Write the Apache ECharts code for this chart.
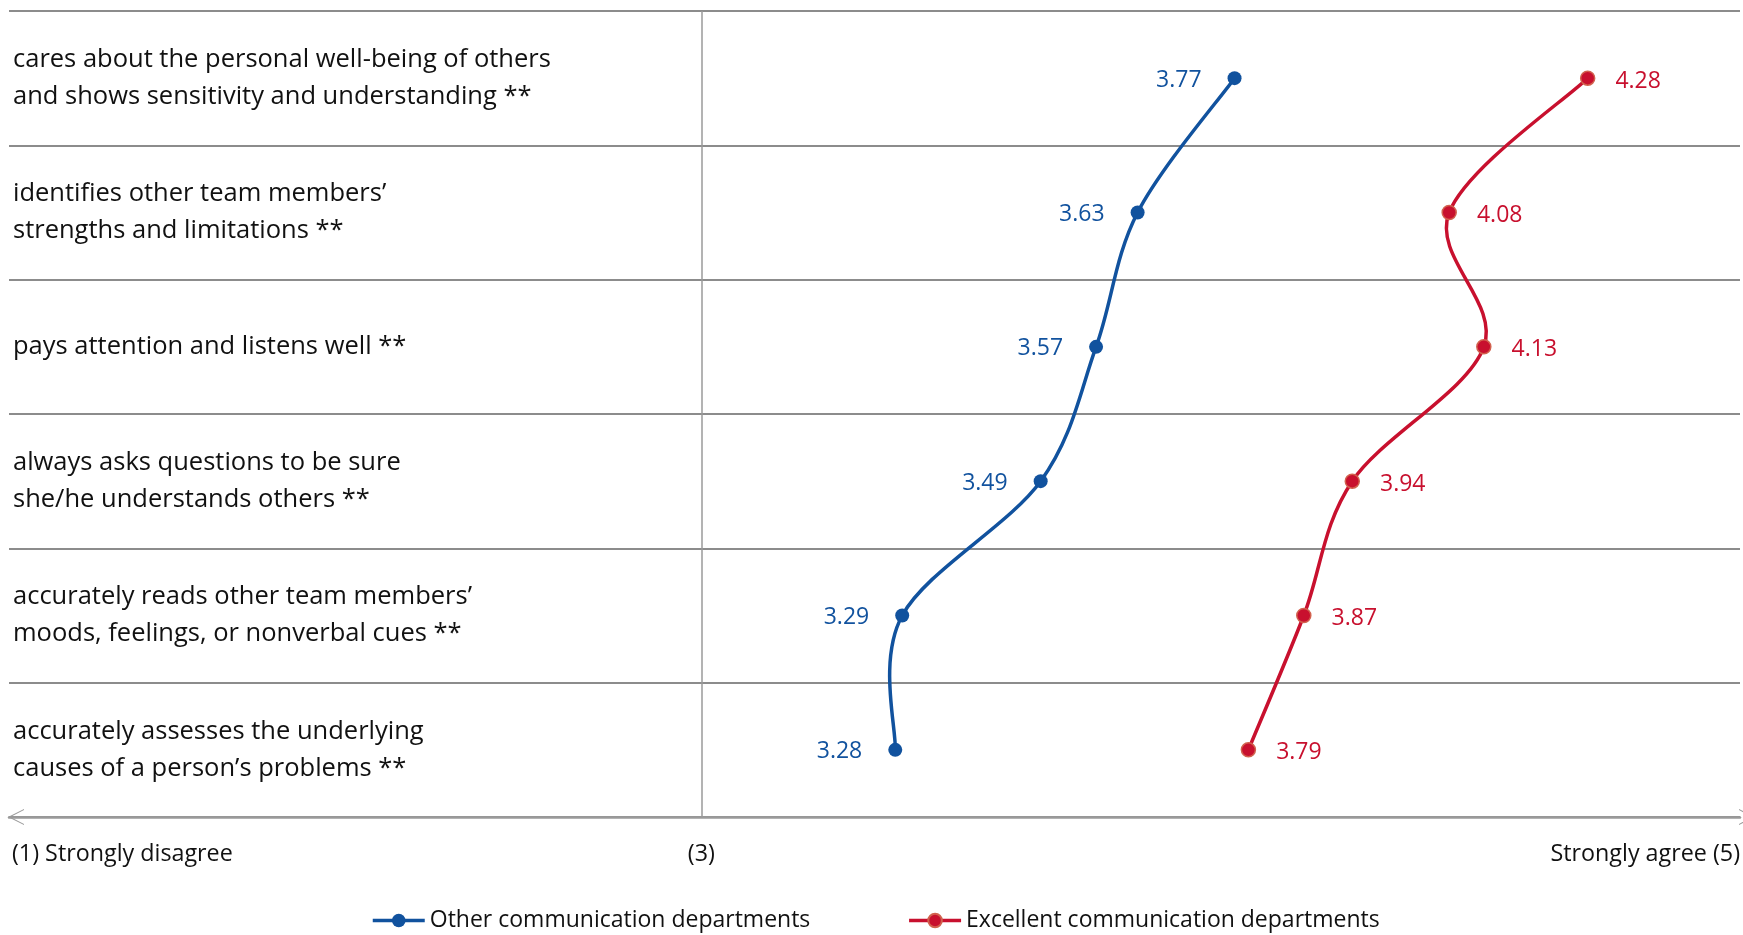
<!DOCTYPE html>
<html>
<head>
<meta charset="utf-8">
<script src="https://cdn.jsdelivr.net/npm/echarts@6/dist/echarts.min.js"></script>
<style>
html,body{margin:0;padding:0;background:#fff;}
#chart{width:1743px;height:935px;}
</style>
</head>
<body>
<div id="chart"></div>
<script>
const categories = [
  'cares about the personal well-being of others\nand shows sensitivity and understanding **',
  'identifies other team members\u2019\nstrengths and limitations **',
  'pays attention and listens well **',
  'always asks questions to be sure\nshe/he understands others **',
  'accurately reads other team members\u2019\nmoods, feelings, or nonverbal cues **',
  'accurately assesses the underlying\ncauses of a person\u2019s problems **'
];
const otherValues = [3.77, 3.63, 3.57, 3.49, 3.29, 3.28];
const excellentValues = [4.28, 4.08, 4.13, 3.94, 3.87, 3.79];
const seriesNames = ['Other communication departments', 'Excellent communication departments'];
const axisLabels = { 2: '(1) Strongly disagree', 3: '(3)', 4.5: 'Strongly agree (5)' };

const BLUE = '#11529e';
const RED = '#c8102e';
const FONT = 'Open Sans';
const LINE_W = 3.5;

// Excel-like smoothed curve (Catmull-Rom bezier) through the points, positioned by the axes
function curveRenderer(values, color) {
  return function (params, api) {
    if (params.dataIndex !== 0) return null;
    const pts = values.map(function (v, i) { return api.coord([v, i]); });
    const children = [];
    for (let i = 0; i < pts.length - 1; i++) {
      const p0 = pts[Math.max(i - 1, 0)], p1 = pts[i], p2 = pts[i + 1], p3 = pts[Math.min(i + 2, pts.length - 1)];
      children.push({
        type: 'bezierCurve',
        shape: {
          x1: p1[0], y1: p1[1], x2: p2[0], y2: p2[1],
          cpx1: p1[0] + (p2[0] - p0[0]) / 6, cpy1: p1[1] + (p2[1] - p0[1]) / 6,
          cpx2: p2[0] - (p3[0] - p1[0]) / 6, cpy2: p2[1] - (p3[1] - p1[1]) / 6
        },
        style: { fill: null, stroke: color, lineWidth: LINE_W, lineCap: 'round' }
      });
    }
    return { type: 'group', children: children };
  };
}

const chart = echarts.init(document.getElementById('chart'));
const chevron = 'path://M0,20 L10,0 L20,20 L18.6,20 L10,3 L1.4,20 Z';
chart.setOption({
  animation: false,
  textStyle: { fontFamily: FONT },
  grid: { left: 9, right: 0, top: 11, bottom: 118, containLabel: false },
  xAxis: {
    type: 'value', min: 2, max: 4.5, interval: 0.5,
    splitLine: { show: false },
    axisTick: { show: false },
    axisLine: {
      show: true,
      symbol: [chevron, chevron],
      symbolSize: [20, 16],
      symbolOffset: [7, 7],
      lineStyle: { color: '#9a9a9a', width: 2.5 }
    },
    axisLabel: {
      show: true, margin: 26, fontSize: 23.3, color: '#111', fontFamily: FONT,
      showMinLabel: true, showMaxLabel: true,
      alignMinLabel: 'left', alignMaxLabel: 'right',
      formatter: function (v) {
        if (axisLabels[v] === undefined) return '';
        return v === 2 ? '{pad|' + axisLabels[v] + '}' : axisLabels[v];
      },
      rich: { pad: { fontSize: 23.3, color: '#111', fontFamily: FONT, padding: [0, 0, 0, 3] } }
    }
  },
  yAxis: {
    type: 'category', inverse: true, data: categories,
    boundaryGap: true,
    axisLine: { show: false },
    axisTick: { show: false },
    splitLine: { show: true, lineStyle: { color: '#8c8c8c', width: 2 } },
    axisLabel: { inside: true, margin: 4, fontSize: 25.5, lineHeight: 37, color: '#111', fontFamily: FONT }
  },
  legend: {
    data: seriesNames,
    left: 366, top: 904,
    itemWidth: 52, itemHeight: 17, itemGap: 97,
    lineStyle: { width: LINE_W, opacity: 1 },
    textStyle: { fontSize: 23, color: '#111', fontFamily: FONT }
  },
  series: [
    {
      name: 'curve-other', type: 'custom', silent: true, z: 2,
      data: otherValues.map(function (v, i) { return [v, i]; }),
      encode: { x: 0, y: 1 },
      renderItem: curveRenderer(otherValues, BLUE)
    },
    {
      name: 'curve-excellent', type: 'custom', silent: true, z: 2,
      data: excellentValues.map(function (v, i) { return [v, i]; }),
      encode: { x: 0, y: 1 },
      renderItem: curveRenderer(excellentValues, RED)
    },
    {
      name: seriesNames[0], type: 'line', data: otherValues,
      symbol: 'circle', symbolSize: 14,
      lineStyle: { color: BLUE, width: LINE_W, opacity: 0 },
      itemStyle: { color: BLUE },
      label: { show: true, position: 'left', distance: 26, fontSize: 23, color: BLUE, fontFamily: FONT, formatter: p => p.value.toFixed(2), offset: [0, 2] },
      markLine: {
        silent: true, symbol: 'none', label: { show: false },
        lineStyle: { color: '#9a9a9a', width: 1.5, type: 'solid', opacity: 1 },
        data: [{ xAxis: 3 }]
      },
      z: 3
    },
    {
      name: seriesNames[1], type: 'line', data: excellentValues,
      symbol: 'circle', symbolSize: 14,
      lineStyle: { color: RED, width: LINE_W, opacity: 0 },
      itemStyle: { color: RED, borderColor: '#d2614e', borderWidth: 1.5 },
      label: { show: true, position: 'right', distance: 20, fontSize: 23, color: RED, fontFamily: FONT, formatter: p => p.value.toFixed(2), offset: [0, 3] },
      z: 3
    }
  ]
});
</script>
</body>
</html>
